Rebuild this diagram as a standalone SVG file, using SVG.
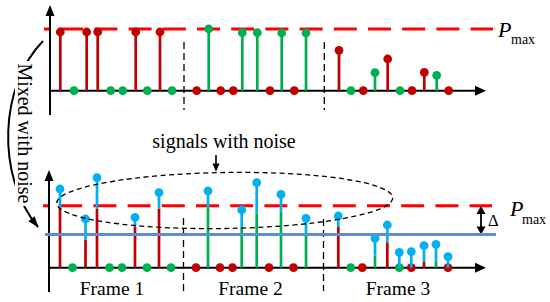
<svg xmlns="http://www.w3.org/2000/svg" width="550" height="302" viewBox="0 0 550 302">
<style>
.ax{stroke:#000;stroke-width:2;fill:none}
.ah{fill:#000}
.vd{stroke:#000;stroke-width:1.3;stroke-dasharray:7 4;fill:none}
.pm{stroke:#FF0000;stroke-width:3;stroke-dasharray:23 11.2;stroke-dashoffset:18;fill:none}
.bl{stroke:#5B8ED6;stroke-width:3}
.sr{stroke:#C00000;stroke-width:2.7}
.sg{stroke:#00B050;stroke-width:2.7}
.sb{stroke:#00B0F0;stroke-width:2.7}
.dr{fill:#C00000}
.dg{fill:#00B050}
.db{fill:#00B0F0}
.t{font-family:"Liberation Serif","Times New Roman",serif;fill:#000}
</style>
<rect width="550" height="302" fill="#fff"/>

<g id="top-panel">
  <g id="top-axes">
    <line class="ax" x1="50" y1="14" x2="50" y2="115"/>
    <polygon class="ah" points="50,5 45.5,16 54.5,16"/>
    <line class="ax" x1="50" y1="90.7" x2="476" y2="90.7"/>
    <polygon class="ah" points="486,90.7 475,85.7 475,95.7"/>
  </g>
  <line class="vd" x1="184" y1="42" x2="184" y2="110"/>
  <line class="vd" x1="324.3" y1="42" x2="324.3" y2="110"/>
  <line id="top-pmax" class="pm" x1="44" y1="29" x2="493" y2="29"/>
  <g id="top-stems">
    <line class="sr" x1="60.3" y1="90.7" x2="60.3" y2="32"/>
    <line class="sr" x1="86.7" y1="90.7" x2="86.7" y2="32"/>
    <line class="sr" x1="97.7" y1="90.7" x2="97.7" y2="32"/>
    <line class="sr" x1="135.7" y1="90.7" x2="135.7" y2="32"/>
    <line class="sr" x1="160" y1="90.7" x2="160" y2="32"/>
    <line class="sg" x1="208.7" y1="90.7" x2="208.7" y2="29"/>
    <line class="sg" x1="242.3" y1="90.7" x2="242.3" y2="32.7"/>
    <line class="sg" x1="257.3" y1="90.7" x2="257.3" y2="32.7"/>
    <line class="sg" x1="281.7" y1="90.7" x2="281.7" y2="33"/>
    <line class="sg" x1="306" y1="90.7" x2="306" y2="33"/>
    <line class="sr" x1="339" y1="90.7" x2="339" y2="50.3"/>
    <line class="sg" x1="375" y1="90.7" x2="375" y2="72.7"/>
    <line class="sr" x1="387.7" y1="90.7" x2="387.7" y2="59"/>
    <line class="sr" x1="424.3" y1="90.7" x2="424.3" y2="72.3"/>
    <line class="sg" x1="436.7" y1="90.7" x2="436.7" y2="75.3"/>
  </g>
  <g id="top-dots">
    <circle class="dr" cx="60.3" cy="32" r="4.4"/>
    <circle class="dr" cx="86.7" cy="32" r="4.4"/>
    <circle class="dr" cx="97.7" cy="32" r="4.4"/>
    <circle class="dr" cx="135.7" cy="32" r="4.4"/>
    <circle class="dr" cx="160" cy="32" r="4.4"/>
    <circle class="dg" cx="208.7" cy="29" r="4.4"/>
    <circle class="dg" cx="242.3" cy="32.7" r="4.4"/>
    <circle class="dg" cx="257.3" cy="32.7" r="4.4"/>
    <circle class="dg" cx="281.7" cy="33" r="4.4"/>
    <circle class="dg" cx="306" cy="33" r="4.4"/>
    <circle class="dr" cx="339" cy="50.3" r="4.4"/>
    <circle class="dg" cx="375" cy="72.7" r="4.4"/>
    <circle class="dr" cx="387.7" cy="59" r="4.4"/>
    <circle class="dr" cx="424.3" cy="72.3" r="4.4"/>
    <circle class="dg" cx="436.7" cy="75.3" r="4.4"/>
    <circle class="dg" cx="74" cy="90.7" r="4.4"/>
    <circle class="dg" cx="110.7" cy="90.7" r="4.4"/>
    <circle class="dg" cx="122.7" cy="90.7" r="4.4"/>
    <circle class="dg" cx="147.3" cy="90.7" r="4.4"/>
    <circle class="dg" cx="172" cy="90.7" r="4.4"/>
    <circle class="dr" cx="196.7" cy="90.7" r="4.4"/>
    <circle class="dr" cx="220.7" cy="90.7" r="4.4"/>
    <circle class="dr" cx="233.3" cy="90.7" r="4.4"/>
    <circle class="dr" cx="270" cy="90.7" r="4.4"/>
    <circle class="dr" cx="294.3" cy="90.7" r="4.4"/>
    <circle class="dg" cx="351" cy="90.7" r="4.4"/>
    <circle class="dr" cx="363.3" cy="90.7" r="4.4"/>
    <circle class="dg" cx="400" cy="90.7" r="4.4"/>
    <circle class="dr" cx="412" cy="90.7" r="4.4"/>
    <circle class="dr" cx="448.7" cy="90.7" r="4.4"/>
  </g>
  <g id="top-pmax-label">
    <text class="t" x="498" y="36.5" font-size="22" font-style="italic">P</text>
    <text class="t" x="511" y="43.5" font-size="14">max</text>
  </g>
</g>

<g id="connectors">
  <path d="M43,41 C0,85 -5,175 38,227" fill="none" stroke="#000" stroke-width="2"/>
  <polygon class="ah" points="38.5,227.5 28.4,221.2 34.6,216.2"/>
  <line x1="216" y1="155" x2="216" y2="165" stroke="#000" stroke-width="1.6"/>
  <polygon class="ah" points="216,171.7 212.5,163.5 219.5,163.5"/>
  <line x1="481" y1="212" x2="481" y2="228.5" stroke="#000" stroke-width="1.8"/>
  <polygon class="ah" points="481,206 476.5,214 485.5,214"/>
  <polygon class="ah" points="481,234.5 476.5,226.5 485.5,226.5"/>
</g>

<g id="mixed-label">
  <rect x="15" y="61" width="18" height="145" fill="#fff"/>
  <text class="t" font-size="20" text-anchor="middle" transform="translate(17.5,133.4) rotate(90)">Mixed with noise</text>
</g>

<g id="bottom-panel">
  <g id="bottom-axes">
    <line class="ax" x1="49" y1="179" x2="49" y2="292"/>
    <polygon class="ah" points="49,170 44.5,181 53.5,181"/>
    <line class="ax" x1="49" y1="267.7" x2="476" y2="267.7"/>
    <polygon class="ah" points="486,267.7 475,262.7 475,272.7"/>
  </g>
  <line class="vd" x1="183.5" y1="218" x2="183.5" y2="291"/>
  <line class="vd" x1="323.5" y1="219" x2="323.5" y2="291"/>
  <line id="bottom-pmax" class="pm" x1="43" y1="205.7" x2="492" y2="205.7"/>
  <g id="bottom-stems">
    <line class="sr" x1="60" y1="267.7" x2="60" y2="208.5"/><line class="sb" x1="60" y1="208.5" x2="60" y2="189"/>
    <line class="sr" x1="85.5" y1="267.7" x2="85.5" y2="240"/><line class="sb" x1="85.5" y1="240" x2="85.5" y2="219"/>
    <line class="sr" x1="97" y1="267.7" x2="97" y2="209"/><line class="sb" x1="97" y1="209" x2="97" y2="177.7"/>
    <line class="sr" x1="135" y1="267.7" x2="135" y2="227"/><line class="sb" x1="135" y1="227" x2="135" y2="217.3"/>
    <line class="sr" x1="159" y1="267.7" x2="159" y2="208.5"/><line class="sb" x1="159" y1="208.5" x2="159" y2="192.7"/>
    <line class="sg" x1="208" y1="267.7" x2="208" y2="207"/><line class="sb" x1="208" y1="207" x2="208" y2="191"/>
    <line class="sg" x1="241.7" y1="267.7" x2="241.7" y2="228"/><line class="sb" x1="241.7" y1="228" x2="241.7" y2="210"/>
    <line class="sg" x1="256.7" y1="267.7" x2="256.7" y2="213.3"/><line class="sb" x1="256.7" y1="213.3" x2="256.7" y2="182.7"/>
    <line class="sg" x1="281" y1="267.7" x2="281" y2="211.7"/><line class="sb" x1="281" y1="211.7" x2="281" y2="194.3"/>
    <line class="sg" x1="306" y1="267.7" x2="306" y2="236"/><line class="sb" x1="306" y1="236" x2="306" y2="218.3"/>
    <line class="sr" x1="338.3" y1="267.7" x2="338.3" y2="227"/><line class="sb" x1="338.3" y1="227" x2="338.3" y2="216"/>
    <line class="sg" x1="375" y1="267.7" x2="375" y2="255.7"/><line class="sb" x1="375" y1="255.7" x2="375" y2="238.3"/>
    <line class="sr" x1="387.3" y1="267.7" x2="387.3" y2="242.3"/><line class="sb" x1="387.3" y1="242.3" x2="387.3" y2="225"/>
    <line class="sr" x1="424" y1="267.7" x2="424" y2="262"/><line class="sb" x1="424" y1="262" x2="424" y2="245.7"/>
    <line class="sg" x1="436" y1="267.7" x2="436" y2="262"/><line class="sb" x1="436" y1="262" x2="436" y2="244.3"/>
  </g>
  <g id="bottom-dots">
    <circle class="dg" cx="72.5" cy="267.7" r="4.4"/>
    <circle class="dg" cx="109.5" cy="267.7" r="4.4"/>
    <circle class="dg" cx="122" cy="267.7" r="4.4"/>
    <circle class="dg" cx="147" cy="267.7" r="4.4"/>
    <circle class="dg" cx="171" cy="267.7" r="4.4"/>
    <circle class="dr" cx="196" cy="267.7" r="4.4"/>
    <circle class="dr" cx="220" cy="267.7" r="4.4"/>
    <circle class="dr" cx="232.5" cy="267.7" r="4.4"/>
    <circle class="dr" cx="269" cy="267.7" r="4.4"/>
    <circle class="dr" cx="293.5" cy="267.7" r="4.4"/>
    <circle class="dg" cx="350.7" cy="267.7" r="4.4"/>
    <circle class="dr" cx="362.3" cy="267.7" r="4.4"/>
    <circle class="dg" cx="399.3" cy="267.7" r="4.4"/>
    <circle class="dr" cx="411.3" cy="267.7" r="4.4"/>
    <circle class="dr" cx="448" cy="267.7" r="4.4"/>
    <line class="sb" x1="399.3" y1="267.7" x2="399.3" y2="252.3"/>
    <line class="sb" x1="411.3" y1="267.7" x2="411.3" y2="251.7"/>
    <line class="sb" x1="448" y1="267.7" x2="448" y2="256.7"/>
    <circle class="db" cx="60" cy="189" r="4.4"/>
    <circle class="db" cx="85.5" cy="219" r="4.4"/>
    <circle class="db" cx="97" cy="177.7" r="4.4"/>
    <circle class="db" cx="135" cy="217.3" r="4.4"/>
    <circle class="db" cx="159" cy="192.7" r="4.4"/>
    <circle class="db" cx="208" cy="191" r="4.4"/>
    <circle class="db" cx="241.7" cy="210" r="4.4"/>
    <circle class="db" cx="256.7" cy="182.7" r="4.4"/>
    <circle class="db" cx="281" cy="194.3" r="4.4"/>
    <circle class="db" cx="306" cy="218.3" r="4.4"/>
    <circle class="db" cx="338.3" cy="216" r="4.4"/>
    <circle class="db" cx="375" cy="238.3" r="4.4"/>
    <circle class="db" cx="387.3" cy="225" r="4.4"/>
    <circle class="db" cx="399.3" cy="252.3" r="4.4"/>
    <circle class="db" cx="411.3" cy="251.7" r="4.4"/>
    <circle class="db" cx="424" cy="245.7" r="4.4"/>
    <circle class="db" cx="436" cy="244.3" r="4.4"/>
    <circle class="db" cx="448" cy="256.7" r="4.4"/>
  </g>
  <line id="noise-threshold" class="bl" x1="45" y1="234.5" x2="496" y2="234.5"/>
  <ellipse id="noise-ellipse" cx="224.7" cy="200.5" rx="168" ry="28" transform="rotate(-0.9 224.7 200.5)" fill="none" stroke="#000" stroke-width="1.3" stroke-dasharray="5 3.5"/>
  <g id="bottom-pmax-label">
    <text class="t" x="510" y="215.5" font-size="22" font-style="italic">P</text>
    <text class="t" x="522" y="223.5" font-size="14">max</text>
  </g>
  <text class="t" x="488" y="225.5" font-size="16.5">Δ</text>
  <text class="t" x="224" y="148" font-size="20" text-anchor="middle">signals with noise</text>
  <text class="t" x="112" y="295" font-size="19.5" text-anchor="middle">Frame 1</text>
  <text class="t" x="250.5" y="295" font-size="19.5" text-anchor="middle">Frame 2</text>
  <text class="t" x="398" y="295" font-size="19.5" text-anchor="middle">Frame 3</text>
</g>
</svg>
